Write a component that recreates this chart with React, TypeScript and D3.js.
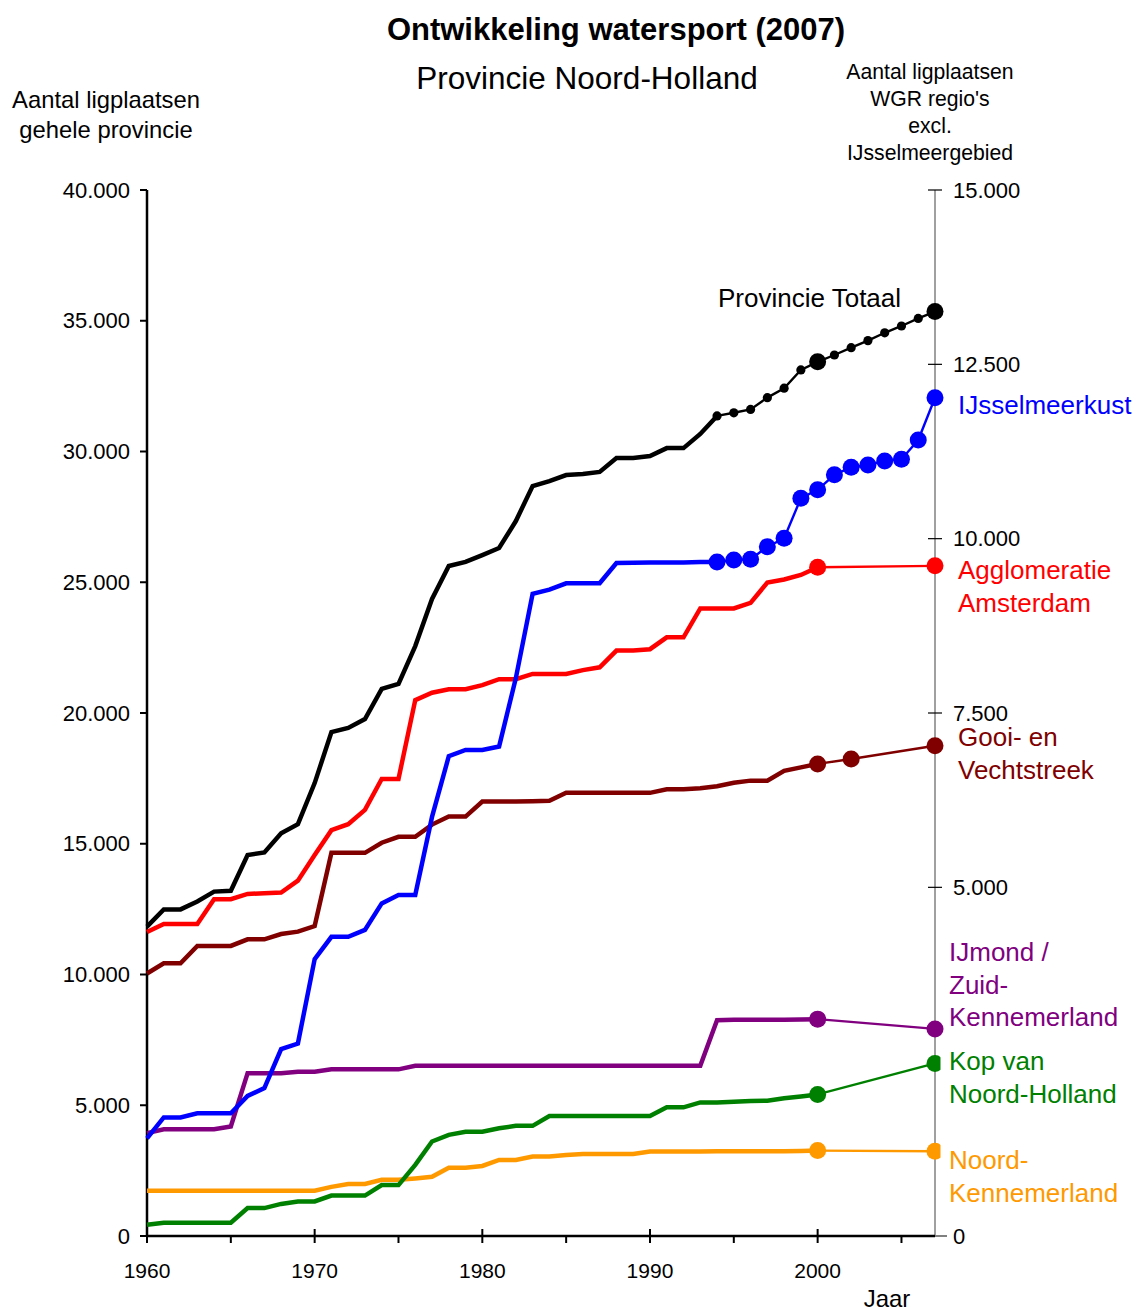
import React from "react";
import * as d3 from "d3";

// ---------- DATA ----------
const histYears = [
  1960, 1961, 1962, 1963, 1964, 1965, 1966, 1967, 1968, 1969,
  1970, 1971, 1972, 1973, 1974, 1975, 1976, 1977, 1978, 1979,
  1980, 1981, 1982, 1983, 1984, 1985, 1986, 1987, 1988, 1989,
  1990, 1991, 1992, 1993, 1994, 1995, 1996, 1997, 1998, 1999, 2000,
];
const recentYears94 = [1994, 1995, 1996, 1997, 1998, 1999, 2000, 2001, 2002, 2003, 2004, 2005, 2006, 2007];
const recentYears00 = [2000, 2007];
const recentYearsGooi = [2000, 2002, 2007];

// Provincie Totaal (left axis)
const totaalHist = [
  11830, 12490, 12490, 12790, 13170, 13200, 14570, 14670, 15400, 15750,
  17320, 19270, 19430, 19770, 20920, 21110, 22560, 24360, 25620, 25780,
  26040, 26310, 27340, 28680, 28870, 29100, 29140, 29220, 29750, 29750,
  29830, 30130, 30130, 30670, 31360,
];
const totaalRecent = [31360, 31480, 31610, 32060, 32420, 33120, 33430, 33690, 33970, 34240, 34540, 34800, 35090, 35350];
const totaalBigDots = [2000, 2007];

// Regions (right axis)
const ijsselHist = [
  1400, 1700, 1700, 1760, 1760, 1760, 2010, 2120, 2680, 2760,
  3970, 4290, 4290, 4390, 4770, 4890, 4890, 6010, 6880, 6970,
  6970, 7020, 8000, 9210, 9270, 9360, 9360, 9360, 9650, 9655,
  9660, 9660, 9660, 9665, 9665,
];
const ijsselRecent = [9665, 9695, 9705, 9885, 10005, 10580, 10700, 10915, 11025, 11055, 11115, 11140, 11415, 12020];

const amsterdamHist = [
  4360, 4475, 4475, 4475, 4830, 4830, 4905, 4915, 4925, 5095,
  5465, 5820, 5905, 6110, 6555, 6555, 7685, 7790, 7840, 7840,
  7900, 7985, 7985, 8060, 8060, 8060, 8115, 8155, 8395, 8395,
  8415, 8585, 8585, 9000, 9000, 9000, 9080, 9370, 9415, 9480, 9590,
];
const amsterdamRecent = [9590, 9610];

const gooiHist = [
  3765, 3910, 3910, 4160, 4160, 4160, 4255, 4255, 4330, 4365,
  4445, 5495, 5495, 5495, 5640, 5725, 5725, 5900, 6015, 6015,
  6230, 6230, 6230, 6235, 6240, 6355, 6355, 6355, 6355, 6355,
  6355, 6405, 6405, 6420, 6450, 6500, 6530, 6530, 6670, 6720, 6770,
];
const gooiRecent = [6770, 6840, 7030];

const ijmondHist = [
  1475, 1530, 1530, 1530, 1530, 1570, 2335, 2335, 2335, 2355,
  2355, 2390, 2390, 2390, 2390, 2390, 2440, 2440, 2440, 2440,
  2440, 2440, 2440, 2440, 2440, 2440, 2440, 2440, 2440, 2440,
  2440, 2440, 2440, 2440, 3095, 3100, 3100, 3100, 3100, 3105, 3110,
];
const ijmondRecent = [3110, 2970];

const kopHist = [
  160, 190, 190, 190, 190, 190, 400, 400, 460, 495,
  495, 580, 580, 580, 730, 730, 1020, 1355, 1450, 1495,
  1495, 1545, 1580, 1580, 1720, 1720, 1720, 1720, 1720, 1720,
  1720, 1845, 1845, 1915, 1915, 1925, 1935, 1940, 1975, 2000, 2030,
];
const kopRecent = [2030, 2475];

const noordKenHist = [
  650, 650, 650, 650, 650, 650, 650, 650, 650, 650,
  650, 705, 745, 745, 805, 805, 825, 850, 980, 980,
  1005, 1090, 1090, 1140, 1140, 1160, 1175, 1175, 1175, 1175,
  1210, 1210, 1210, 1210, 1215, 1215, 1215, 1215, 1215, 1220, 1225,
];
const noordKenRecent = [1225, 1215];

const leftTicks = [0, 5000, 10000, 15000, 20000, 25000, 30000, 35000, 40000];
const rightTicks = [0, 2500, 5000, 7500, 10000, 12500, 15000];
const majorYears = [1960, 1970, 1980, 1990, 2000];
const minorYears = [1965, 1975, 1985, 1995, 2005];

// ---------- LAYOUT ----------
const W = 1139;
const H = 1308;
const X0 = 147;
const X1 = 935;
const Y0 = 1236;
const Y1 = 190;
const FONT = "'Liberation Sans', Arial, Helvetica, sans-serif";

const fmt = (v: number) => d3.format(",")(v).replace(/,/g, ".");

export default function App() {
  const x = d3.scaleLinear().domain([1960, 2007]).range([X0, X1]);
  const yL = d3.scaleLinear().domain([0, 40000]).range([Y0, Y1]);
  const yR = d3.scaleLinear().domain([0, 15000]).range([Y0, Y1]);

  const mk = (ys: d3.ScaleLinear<number, number>) =>
    d3
      .line<[number, number]>()
      .x((d) => x(d[0]))
      .y((d) => ys(d[1]));
  const lineL = mk(yL);
  const lineR = mk(yR);

  const zip = (yrs: number[], vals: number[]): [number, number][] =>
    vals.map((v, i) => [yrs[i], v]);

  type Series = {
    name: string;
    color: string;
    hist: number[];
    recentYears: number[];
    recent: number[];
    dotsAll: boolean;
  };

  const regions: Series[] = [
    { name: "noordken", color: "#FF9900", hist: noordKenHist, recentYears: recentYears00, recent: noordKenRecent, dotsAll: true },
    { name: "kop", color: "#008000", hist: kopHist, recentYears: recentYears00, recent: kopRecent, dotsAll: true },
    { name: "ijmond", color: "#800080", hist: ijmondHist, recentYears: recentYears00, recent: ijmondRecent, dotsAll: true },
    { name: "gooi", color: "#800000", hist: gooiHist, recentYears: recentYearsGooi, recent: gooiRecent, dotsAll: true },
    { name: "amsterdam", color: "#FF0000", hist: amsterdamHist, recentYears: recentYears00, recent: amsterdamRecent, dotsAll: true },
    { name: "ijssel", color: "#0000FF", hist: ijsselHist, recentYears: recentYears94, recent: ijsselRecent, dotsAll: true },
  ];

  const THICK = 4.5;
  const THIN = 2.4;
  const R = 8.5;

  const labels: { lines: string[]; color: string; x: number; y: number; bg?: boolean }[] = [
    { lines: ["IJsselmeerkust"], color: "#0000FF", x: 958, y: 405 },
    { lines: ["Agglomeratie", "Amsterdam"], color: "#FF0000", x: 958, y: 570 },
    { lines: ["Gooi- en", "Vechtstreek"], color: "#800000", x: 958, y: 737 },
    { lines: ["IJmond /", "Zuid-", "Kennemerland"], color: "#800080", x: 949, y: 952 },
    { lines: ["Kop van", "Noord-Holland"], color: "#008000", x: 949, y: 1061, bg: true },
    { lines: ["Noord-", "Kennemerland"], color: "#FF9900", x: 949, y: 1160, bg: true },
  ];
  const LH = 32.5;

  return (
    <svg
      width={W}
      height={H}
      style={{ position: "absolute", left: 0, top: 0, display: "block", background: "#fff" }}
      fontFamily={FONT}
    >
      <rect x={0} y={0} width={W} height={H} fill="#fff" />

      {/* Titles */}
      <text x={616} y={29} fontSize={31} fontWeight="bold" textAnchor="middle" dominantBaseline="central">
        Ontwikkeling watersport (2007)
      </text>
      <text x={587} y={78} fontSize={31.5} textAnchor="middle" dominantBaseline="central">
        Provincie Noord-Holland
      </text>
      <text x={106} y={99} fontSize={23.8} textAnchor="middle" dominantBaseline="central">
        Aantal ligplaatsen
      </text>
      <text x={106} y={129} fontSize={23.8} textAnchor="middle" dominantBaseline="central">
        gehele provincie
      </text>
      {["Aantal ligplaatsen", "WGR regio's", "excl.", "IJsselmeergebied"].map((t, i) => (
        <text key={t} x={930} y={71 + i * 27.3} fontSize={21.2} textAnchor="middle" dominantBaseline="central">
          {t}
        </text>
      ))}
      <text x={887} y={1298} fontSize={24} textAnchor="middle" dominantBaseline="central">
        Jaar
      </text>

      {/* Right axis */}
      <line x1={X1} x2={X1} y1={Y1} y2={Y0} stroke="#808080" strokeWidth={1.5} />
      {rightTicks.map((t) => (
        <g key={"r" + t}>
          <line x1={X1 - 7} x2={X1 + 7} y1={yR(t)} y2={yR(t)} stroke="#000" strokeWidth={1.2} />
          <text x={953} y={yR(t)} fontSize={22} dominantBaseline="central">
            {fmt(t)}
          </text>
        </g>
      ))}

      {/* Left axis */}
      <line x1={X0} x2={X0} y1={Y1} y2={Y0} stroke="#000" strokeWidth={2.5} />
      {leftTicks.map((t) => (
        <g key={"l" + t}>
          <line x1={X0 - 7} x2={X0} y1={yL(t)} y2={yL(t)} stroke="#000" strokeWidth={2} />
          <text x={130} y={yL(t)} fontSize={22} textAnchor="end" dominantBaseline="central">
            {fmt(t)}
          </text>
        </g>
      ))}

      {/* X axis */}
      <line x1={X1} x2={X1 + 12} y1={Y0} y2={Y0} stroke="#808080" strokeWidth={2} />
      <line x1={X0 - 1} x2={X1} y1={Y0} y2={Y0} stroke="#000" strokeWidth={2.5} />
      {majorYears.map((yr) => (
        <g key={"mx" + yr}>
          <line x1={x(yr)} x2={x(yr)} y1={Y0 - 7} y2={Y0 + 7} stroke="#000" strokeWidth={2} />
          <text x={x(yr)} y={1270} fontSize={21} textAnchor="middle" dominantBaseline="central">
            {yr}
          </text>
        </g>
      ))}
      {minorYears.map((yr) => (
        <line key={"mn" + yr} x1={x(yr)} x2={x(yr)} y1={Y0} y2={Y0 + 7} stroke="#000" strokeWidth={2} />
      ))}

      {/* Regional series */}
      {regions.map((s) => {
        const hist = zip(histYears, s.hist);
        const rec = zip(s.recentYears, s.recent);
        return (
          <g key={s.name}>
            <path d={lineR(hist) || ""} fill="none" stroke={s.color} strokeWidth={THICK} strokeLinejoin="miter" />
            <path d={lineR(rec) || ""} fill="none" stroke={s.color} strokeWidth={THIN} />
            {rec.map((d) => (
              <circle key={d[0]} cx={x(d[0])} cy={yR(d[1])} r={R} fill={s.color} />
            ))}
          </g>
        );
      })}

      {/* Provincie Totaal */}
      <g>
        <path d={lineL(zip(histYears, totaalHist)) || ""} fill="none" stroke="#000" strokeWidth={THICK} />
        <path d={lineL(zip(recentYears94, totaalRecent)) || ""} fill="none" stroke="#000" strokeWidth={THIN} />
        {zip(recentYears94, totaalRecent).map((d) => (
          <circle
            key={d[0]}
            cx={x(d[0])}
            cy={yL(d[1])}
            r={totaalBigDots.includes(d[0]) ? R : 4.6}
            fill="#000"
          />
        ))}
      </g>
      <text x={718} y={298} fontSize={26} dominantBaseline="central">
        Provincie Totaal
      </text>

      {/* Region labels */}
      {labels.map((l) => (
        <g key={l.lines.join("")}>
          {l.bg && (
            <rect
              x={940.5}
              y={l.y - 16}
              width={190}
              height={(l.lines.length - 1) * LH + 32}
              fill="#fff"
            />
          )}
          {l.lines.map((t, i) => (
            <text key={t} x={l.x} y={l.y + i * LH} fontSize={26} fill={l.color} dominantBaseline="central">
              {t}
            </text>
          ))}
        </g>
      ))}
    </svg>
  );
}
